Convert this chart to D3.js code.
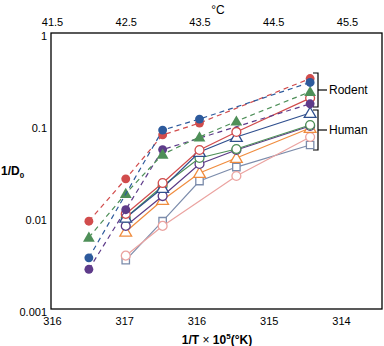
<!DOCTYPE html>
<html>
<head>
<meta charset="utf-8">
<script src="https://cdn.jsdelivr.net/npm/d3@7"></script>
<style>
  body { margin: 0; background: #fff; }
  svg { display: block; font-family: "Liberation Sans", Arial, sans-serif; }
</style>
</head>
<body>
<svg id="chart" width="384" height="346"></svg>
<script>
// temperatures (deg C) of each measurement column
const rodentTemps = {
  red:    [42, 42.5, 43, 43.5, 45],
  blue:   [42, 43, 43.5, 45],
  green:  [42, 42.5, 43, 43.5, 44, 45],
  purple: [42, 42.5, 43, 45]
};
const rodentValues = {
  red:    [0.009, 0.026, 0.078, 0.105, 0.32],
  blue:   [0.0036, 0.088, 0.116, 0.29],
  green:  [0.006, 0.018, 0.048, 0.074, 0.11, 0.23],
  purple: [0.0027, 0.012, 0.054, 0.17]
};
const humanTemps = [42.5, 43, 43.5, 44, 45];
const humanRed    = [0.0108, 0.0234, 0.0535, 0.084, 0.196];
const humanBlue   = [0.0098, 0.0207, 0.0509, 0.0741, 0.135];
const humanGreen  = [0.0098, 0.0217, 0.0438, 0.0548, 0.1];
const humanPurple = [0.008, 0.0169, 0.0377, 0.0535, 0.0975];
const humanOrange = [0.0069, 0.0153, 0.0301, 0.0438, 0.0928];
const pinkTemps   = [42.5, 43, 44, 45];
const humanPink   = [0.0038, 0.008, 0.0279, 0.0741];
const humanSlate  = [0.0034, 0.009, 0.0246, 0.0349, 0.0606];

const topTicks = [41.5, 42.5, 43.5, 44.5, 45.5];
const bottomTicks = [318, 317, 316, 315, 314];
const bottomLabels = ['316', '317', '316', '315', '314'];
const yTicks = [1, 0.1, 0.01, 0.001];
const yLabels = ['1', '0.1', '0.01', '0.001'];

const plotLeft = 51, plotRight = 382, plotTop = 33, plotBottom = 309;

const svg = d3.select('#chart');

const x = d3.scaleLinear().domain([41.5, 45.5]).range([52, 347]);
const xBottom = d3.scaleLinear().domain([318, 314]).range([52, 341]);
const y = d3.scaleLog().domain([0.001, 1]).range([plotBottom, plotTop]);

// frame
svg.append('rect')
  .attr('x', plotLeft).attr('y', plotTop)
  .attr('width', plotRight - plotLeft).attr('height', plotBottom - plotTop)
  .attr('fill', 'none').attr('stroke', '#000').attr('stroke-width', 1.3);

// axes (labels only, no tick marks)
const topAxis = d3.axisTop(x).tickValues(topTicks).tickFormat(d3.format('.1f')).tickSize(0).tickPadding(7);
svg.append('g').attr('transform', `translate(0,${plotTop})`).call(topAxis)
  .call(g => g.select('.domain').remove())
  .selectAll('text').attr('font-size', 11).attr('font-family', 'Liberation Sans, Arial, sans-serif');

const bottomAxis = d3.axisBottom(xBottom).tickValues(bottomTicks)
  .tickFormat((d, i) => bottomLabels[i]).tickSize(0).tickPadding(8);
svg.append('g').attr('transform', `translate(0,${plotBottom})`).call(bottomAxis)
  .call(g => g.select('.domain').remove())
  .selectAll('text').attr('font-size', 11).attr('font-family', 'Liberation Sans, Arial, sans-serif');

const leftAxis = d3.axisLeft(y).tickValues(yTicks)
  .tickFormat((d, i) => yLabels[i]).tickSize(0).tickPadding(4);
svg.append('g').attr('transform', `translate(${plotLeft},3)`).call(leftAxis)
  .call(g => g.select('.domain').remove())
  .selectAll('text').attr('font-size', 11).attr('font-family', 'Liberation Sans, Arial, sans-serif');

// titles
svg.append('text').attr('x', 218).attr('y', 14).attr('text-anchor', 'middle')
  .attr('font-size', 12).text('°C');

const xt = svg.append('text').attr('x', 217).attr('y', 344).attr('text-anchor', 'middle')
  .attr('font-size', 12).attr('font-weight', 'bold');
xt.append('tspan').text('1/T ');
xt.append('tspan').attr('font-weight', 'normal').text('×');
xt.append('tspan').text(' 10');
xt.append('tspan').attr('font-size', 8).attr('dy', -5).text('5');
xt.append('tspan').attr('dy', 5).text('(°K)');

const yt = svg.append('text').attr('x', 1).attr('y', 175)
  .attr('font-size', 12).attr('font-weight', 'bold');
yt.append('tspan').text('1/D');
yt.append('tspan').attr('font-size', 8).attr('dy', 3).text('0');

// series
const line = d3.line().x(d => x(d[0])).y(d => y(d[1]));

function drawMarker(g, pts, shape, color, filled) {
  const sym = shape === 'triangle' ? d3.symbolTriangle : shape === 'square' ? d3.symbolSquare : d3.symbolCircle;
  const size = shape === 'triangle' ? 60 : shape === 'square' ? 55 : 62;
  g.selectAll(null).data(pts).enter().append('path')
    .attr('d', d3.symbol().type(sym).size(size))
    .attr('transform', d => `translate(${x(d[0])},${y(d[1]) + (shape === 'triangle' ? 1 : 0)})`)
    .attr('fill', filled ? color : '#fff')
    .attr('stroke', color)
    .attr('stroke-width', filled ? 0 : 1.3);
}

function series(temps, vals, shape, color, filled, dashed) {
  const pts = temps.map((t, i) => [t, vals[i]]);
  const g = svg.append('g');
  g.append('path').datum(pts).attr('d', line)
    .attr('fill', 'none').attr('stroke', color).attr('stroke-width', 1.2)
    .attr('stroke-dasharray', dashed ? '5,4' : null);
  drawMarker(g, pts, shape, color, filled);
}

// human (solid lines, open markers)
series(humanTemps, humanSlate, 'square', '#7c8cab', false, false);
series(pinkTemps, humanPink, 'circle', '#eba3a0', false, false);
series(humanTemps, humanOrange, 'triangle', '#f08c3e', false, false);
series(humanTemps, humanPurple, 'circle', '#5b3a86', false, false);
series(humanTemps, humanGreen, 'circle', '#4e8f58', false, false);
series(humanTemps, humanBlue, 'triangle', '#2f4f8e', false, false);
series(humanTemps, humanRed, 'circle', '#d14c4c', false, false);

// rodent (dashed lines, filled markers)
series(rodentTemps.purple, rodentValues.purple, 'circle', '#5e3b8a', true, true);
series(rodentTemps.green, rodentValues.green, 'triangle', '#4e8f58', true, true);
series(rodentTemps.red, rodentValues.red, 'circle', '#d14c4c', true, true);
series(rodentTemps.blue, rodentValues.blue, 'circle', '#2d5a9c', true, true);

// group brackets
function bracket(y0, y1, label) {
  const g = svg.append('g').attr('stroke', '#000').attr('stroke-width', 1.2).attr('fill', 'none');
  g.append('path').attr('d', `M313,${y0}H318V${y1}H313`);
  const m = (y0 + y1) / 2;
  g.append('path').attr('d', `M318,${m}H327`);
  svg.append('text').attr('x', 329).attr('y', m + 4).attr('font-size', 12).text(label);
}
bracket(73, 107, 'Rodent');
bracket(110, 150, 'Human');
</script>
</body>
</html>
